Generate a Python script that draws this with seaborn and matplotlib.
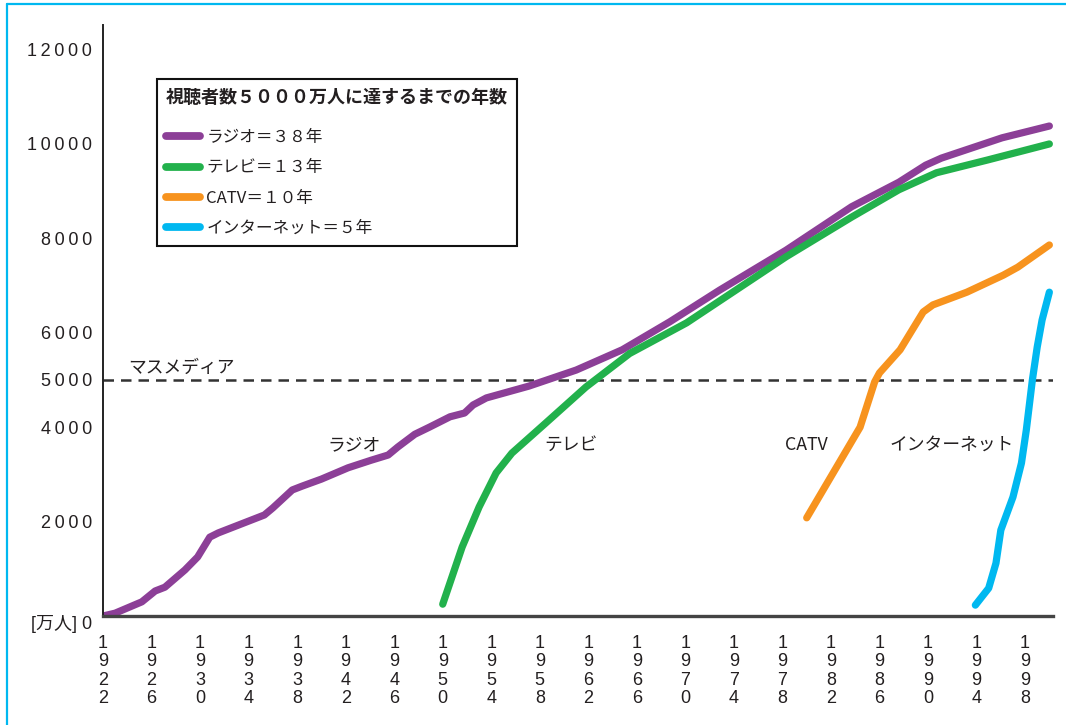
import numpy as np
import pandas as pd
import matplotlib
matplotlib.use("Agg")
import matplotlib.pyplot as plt
from matplotlib.lines import Line2D
import seaborn as sns

# ---------------- data ----------------
radio_years = [1922, 1923, 1925.2, 1926.3, 1927.1, 1928.75, 1929.8, 1930.8, 1931.5, 1933.4,
               1935.3, 1936, 1937.6, 1938.4, 1940, 1942.2, 1944.1, 1945.5, 1946.3, 1947.7,
               1948.9, 1950.6, 1951.8, 1952.5, 1953.6, 1957.1, 1961, 1964.8, 1968.7, 1972.8,
               1978.3, 1983.7, 1987.6, 1989.8, 1991.1, 1996.1, 2000]
radio_values = [0, 60, 300, 530, 610, 975, 1250, 1670, 1760, 1950,
                2140, 2290, 2670, 2750, 2900, 3140, 3300, 3410, 3580, 3850,
                4000, 4220, 4300, 4470, 4620, 4870, 5210, 5640, 6230, 6900,
                7750, 8670, 9190, 9550, 9700, 10130, 10380]

tv_years = [1950, 1951.6, 1953, 1954.4, 1955.7, 1958.5, 1961.8, 1965.4, 1970.1, 1978.3,
            1983.7, 1987.6, 1990.7, 1994.9, 2000]
tv_values = [250, 1460, 2310, 3030, 3450, 4090, 4850, 5560, 6210, 7610,
             8450, 9030, 9390, 9660, 10000]

catv_years = [1980, 1984.4, 1985.6, 1986, 1987.7, 1989.6, 1990.4, 1993.2, 1996.2, 1997.4, 2000]
catv_values = [2080, 4000, 4960, 5150, 5640, 6440, 6590, 6860, 7220, 7390, 7860]

net_years = [1993.9, 1995, 1995.6, 1996.0, 1997, 1997.7, 1998.1, 1998.6, 1999, 1999.4, 2000]
net_values = [230, 590, 1120, 1820, 2520, 3240, 3940, 5000, 5700, 6270, 6860]

media = ["ラジオ", "テレビ", "CATV", "インターネット"]
legend_labels = ["ラジオ＝３８年", "テレビ＝１３年", "CATV＝１０年", "インターネット＝５年"]
legend_title = "視聴者数５０００万人に達するまでの年数"
colors = ["#8C3F97", "#22B14C", "#F7931E", "#00B8F0"]

ytick_values = [2000, 4000, 5000, 6000, 8000, 10000, 12000]
xtick_years = [1922, 1926, 1930, 1934, 1938, 1942, 1946, 1950, 1954, 1958,
               1962, 1966, 1970, 1974, 1978, 1982, 1986, 1990, 1994, 1998]
threshold = 5000

# ---------------- frame ----------------
frames = []
for name, yrs, vals in zip(media,
                           [radio_years, tv_years, catv_years, net_years],
                           [radio_values, tv_values, catv_values, net_values]):
    frames.append(pd.DataFrame({"year": yrs, "value": vals, "media": name}))
df = pd.concat(frames, ignore_index=True)

sns.set_style("white")
plt.rcParams["font.family"] = ["Noto Sans CJK JP", "DejaVu Sans"]

W, H = 1066, 725
fig = plt.figure(figsize=(W / 100, H / 100), dpi=100)
ax = fig.add_axes([103 / W, 1 - 616 / H, (1053 - 103) / W, (616 - 25) / H])

sns.lineplot(data=df, x="year", y="value", hue="media", hue_order=media,
             palette=colors, estimator=None, sort=False, legend=False,
             linewidth=5.2, solid_capstyle="round", solid_joinstyle="round", ax=ax)

ax.set_xlim(1922, 2000.3)
ax.set_ylim(0, 12520)

# threshold line
ax.axhline(threshold, color="#333333", lw=1.8, dashes=(4.2, 2.8), zorder=1)

# spines
ax.spines["top"].set_visible(False)
ax.spines["right"].set_visible(False)
ax.spines["left"].set_color("#222222")
ax.spines["left"].set_linewidth(1.4)
ax.spines["bottom"].set_color("#444444")
ax.spines["bottom"].set_linewidth(2.4)
ax.set_xlabel("")
ax.set_ylabel("")

tick_font = ["Liberation Sans", "DejaVu Sans"]
ax.set_yticks(ytick_values)
ax.set_yticklabels(["\u2009".join(str(v)) for v in ytick_values],
                   fontsize=13, family=tick_font, color="#231F20")
ax.set_xticks(xtick_years)
ax.set_xticklabels(["\n".join(str(y)) for y in xtick_years],
                   fontsize=13, family=tick_font, color="#231F20", linespacing=1.08)
ax.tick_params(axis="both", length=0)
ax.tick_params(axis="y", pad=8)
ax.tick_params(axis="x", pad=14)

# zero label with unit
ax.annotate("[万人] 0", xy=(0, 0), xycoords=("axes fraction", "data"),
            xytext=(-8, -6), textcoords="offset points", ha="right", va="center",
            fontsize=13, color="#231F20", family=["Liberation Sans", "Noto Sans CJK JP", "DejaVu Sans"])

# annotations
txt_kw = dict(fontsize=12.8, color="#231F20", va="center")
ax.text(1924.1, 5250, "マスメディア", ha="left", **txt_kw)
ax.text(1942.7, 3620, "ラジオ", ha="center", **txt_kw)
ax.text(1960.6, 3620, "テレビ", ha="center", **txt_kw)
ax.text(1980.0, 3620, "CATV", ha="center", **txt_kw)
ax.text(1991.9, 3620, "インターネット", ha="center", **txt_kw)

# legend
handles = [Line2D([0], [0], color=c, lw=5.6, solid_capstyle="round") for c in colors]
leg = ax.legend(handles, legend_labels, title=legend_title + "\n", loc="upper left",
                bbox_to_anchor=(157 / W, 1 - 79 / H), bbox_transform=fig.transFigure,
                frameon=True, fancybox=False, edgecolor="#111111", framealpha=1,
                prop={"size": 12}, title_fontproperties={"size": 13, "weight": "bold"},
                alignment="left", handlelength=2.0, handletextpad=0.4,
                labelspacing=0.8, borderpad=0.55, borderaxespad=0)
leg.get_frame().set_linewidth(1.5)
leg.get_title().set_linespacing(0.3)
for t in leg.get_texts():
    t.set_color("#231F20")
leg.get_title().set_color("#231F20")

# cyan figure border (top and left)
fig.add_artist(Line2D([7 / W, 7 / W], [0, 1 - 4 / H], color="#00B8F0", lw=1.6,
                      transform=fig.transFigure))
fig.add_artist(Line2D([7 / W, 1], [1 - 4 / H, 1 - 4 / H], color="#00B8F0", lw=1.6,
                      transform=fig.transFigure))

fig.savefig("out.png", dpi=100)
